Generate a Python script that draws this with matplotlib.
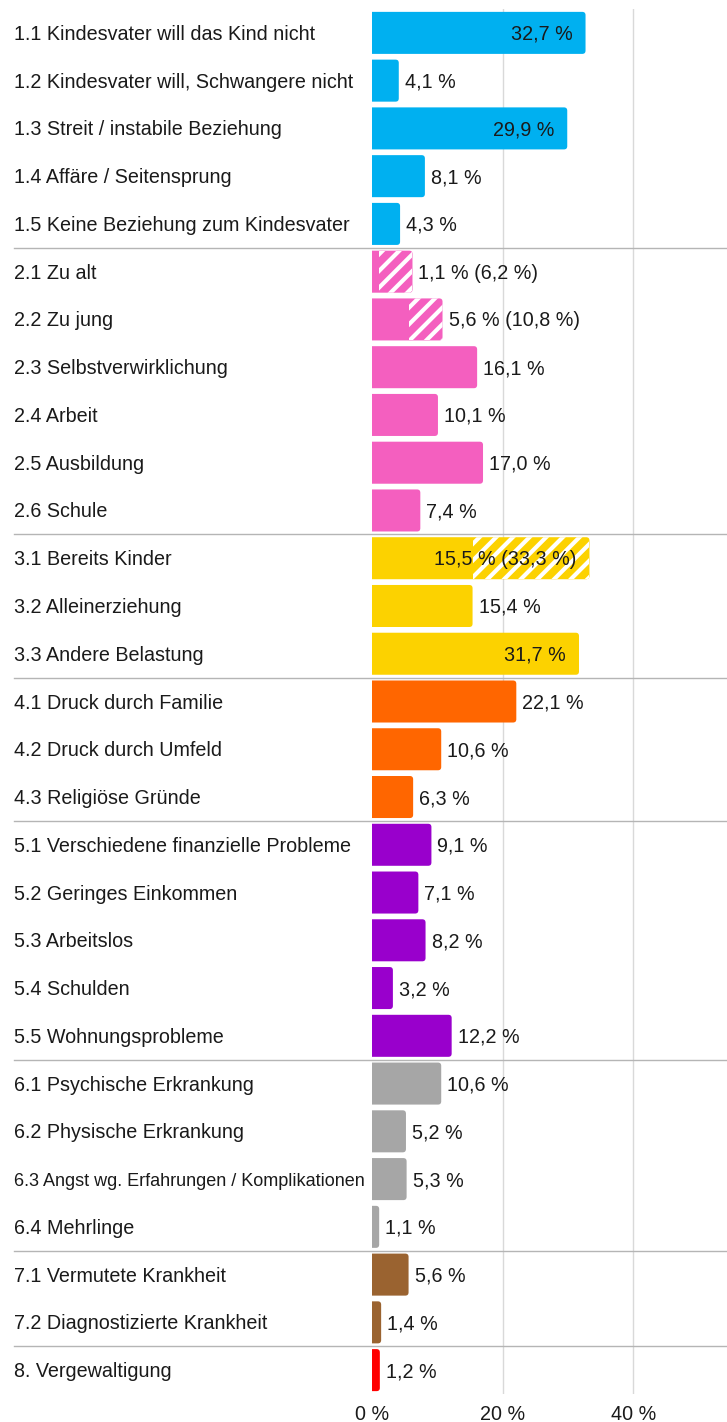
import matplotlib
matplotlib.use("Agg")
import matplotlib.pyplot as plt
from matplotlib.patches import FancyBboxPatch, Rectangle
from matplotlib.transforms import blended_transform_factory

plt.rcParams["font.family"] = ["Liberation Sans", "DejaVu Sans"]
plt.rcParams["hatch.linewidth"] = 3.0

# ---------------------------------------------------------------------------
# Data
# ---------------------------------------------------------------------------

labels = [
    "1.1 Kindesvater will das Kind nicht",
    "1.2 Kindesvater will, Schwangere nicht",
    "1.3 Streit / instabile Beziehung",
    "1.4 Affäre / Seitensprung",
    "1.5 Keine Beziehung zum Kindesvater",
    "2.1 Zu alt",
    "2.2 Zu jung",
    "2.3 Selbstverwirklichung",
    "2.4 Arbeit",
    "2.5 Ausbildung",
    "2.6 Schule",
    "3.1 Bereits Kinder",
    "3.2 Alleinerziehung",
    "3.3 Andere Belastung",
    "4.1 Druck durch Familie",
    "4.2 Druck durch Umfeld",
    "4.3 Religiöse Gründe",
    "5.1 Verschiedene finanzielle Probleme",
    "5.2 Geringes Einkommen",
    "5.3 Arbeitslos",
    "5.4 Schulden",
    "5.5 Wohnungsprobleme",
    "6.1 Psychische Erkrankung",
    "6.2 Physische Erkrankung",
    "6.3 Angst wg. Erfahrungen / Komplikationen",
    "6.4 Mehrlinge",
    "7.1 Vermutete Krankheit",
    "7.2 Diagnostizierte Krankheit",
    "8. Vergewaltigung",
]

values = [32.7, 4.1, 29.9, 8.1, 4.3,
          1.1, 5.6, 16.1, 10.1, 17.0, 7.4,
          15.5, 15.4, 31.7,
          22.1, 10.6, 6.3,
          9.1, 7.1, 8.2, 3.2, 12.2,
          10.6, 5.2, 5.3, 1.1,
          5.6, 1.4,
          1.2]

# extended (hatched) totals, keyed by row index
extended = {5: 6.2, 6: 10.8, 11: 33.3}

group_sizes = [5, 6, 3, 3, 5, 4, 2, 1]
group_colors = ["#00b0f0", "#f45fbf", "#fcd200", "#ff6600",
                "#9900cc", "#a6a6a6", "#9a6330", "#ff0000"]

xticks = [0, 20, 40]
xticklabels = ["0 %", "20 %", "40 %"]

# ---------------------------------------------------------------------------
# Plot
# ---------------------------------------------------------------------------

FS = 14.2

fig = plt.figure(figsize=(7.27, 14.22), dpi=100)
ax = fig.add_axes([372 / 727, 1 - 1394 / 1422, 1 - 372 / 727, (1394 - 9) / 1422])

n = len(labels)
XMAX = 355 / 6.53
ax.set_xlim(0, XMAX)
ax.set_ylim(n - 0.5, -0.5)

colors = []
for size, col in zip(group_sizes, group_colors):
    colors += [col] * size

text_col = "#1a1a1a"
bar_h = 0.88
# px per data unit, for rounding corners and text offsets
px_x = 6.53
px_y = 47.75
aspect = px_x / px_y
base = 7 / px_y   # baseline sits ~7 px below the bar centre

fig_y = blended_transform_factory(fig.transFigure, ax.transData)

for i, (lab, v, col) in enumerate(zip(labels, values, colors)):
    total = extended.get(i, v)
    patch = FancyBboxPatch((-1, i - bar_h / 2), total + 1, bar_h,
                           boxstyle="round,pad=0,rounding_size=0.5",
                           mutation_aspect=aspect,
                           facecolor=col, edgecolor="none", zorder=2)
    ax.add_patch(patch)
    if i in extended:
        hatch = Rectangle((v, i - bar_h / 2), total - v, bar_h,
                          facecolor="none", edgecolor="white", hatch="//",
                          linewidth=0, zorder=3)
        ax.add_patch(hatch)
        hatch.set_clip_path(patch)
        txt = f"{v:.1f} % ({total:.1f} %)".replace(".", ",")
    else:
        txt = f"{v:.1f} %".replace(".", ",")

    if total > 25:
        ax.text(total - 13 / px_x, i + base, txt, ha="right", va="baseline",
                fontsize=FS, color=text_col, zorder=4)
    else:
        ax.text(total + 6 / px_x, i + base, txt, ha="left", va="baseline",
                fontsize=FS, color=text_col, zorder=4)

    fs = 13 if lab.startswith("6.3") else FS
    ax.text(14 / 727, i + base, lab, transform=fig_y, ha="left", va="baseline",
            fontsize=fs, color=text_col)

# group separator lines
pos = 0
for size in group_sizes[:-1]:
    pos += size
    ax.plot([14 / 727, 1.0], [pos - 0.5, pos - 0.5], transform=fig_y,
            color="#b5b5b5", linewidth=1, clip_on=False, zorder=1)

for x in xticks[1:]:
    ax.axvline(x, color="#d9d9d9", linewidth=1, zorder=0)

ax.set_xticks(xticks)
ax.set_xticklabels(xticklabels, fontsize=FS, color=text_col)
ax.set_yticks([])
ax.tick_params(axis="x", length=0, pad=8)
for s in ax.spines.values():
    s.set_visible(False)

fig.savefig("out.png", dpi=100)
